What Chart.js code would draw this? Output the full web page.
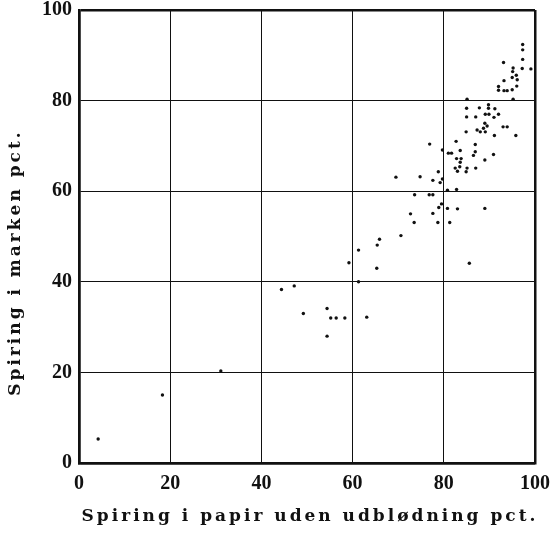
<!DOCTYPE html>
<html>
<head>
<meta charset="utf-8">
<script src="https://cdn.jsdelivr.net/npm/chart.js@4.4.0/dist/chart.umd.min.js"></script>
<style>
  html, body { margin: 0; padding: 0; background: #fff; }
  #wrap { width: 552px; height: 535px; }
</style>
</head>
<body>
<div id="wrap"><canvas id="chart" width="552" height="535"></canvas></div>
<script>
// Spiring i papir (x) against spiring i marken (y), pct.
const papirPct = [
  4.2, 18.3, 31.1, 44.4, 47.2, 49.2, 54.4, 55.2, 56.4, 58.3,
  54.4, 63.1, 61.3, 59.2, 61.3, 65.3, 65.4, 65.9, 70.6, 85.6,
  69.5, 74.8, 77.6, 78.8, 79.2, 79.7, 73.6, 76.8, 77.6, 80.8,
  82.8, 79.5, 78.9, 80.8, 83.0, 89.0, 72.7, 77.6, 73.5, 78.7,
  81.3, 76.9, 79.7, 81.0, 81.7, 83.6, 86.9, 86.5, 90.9, 82.8,
  83.8, 83.6, 89.0, 83.5, 82.5, 85.1, 87.0, 83.0, 84.9, 82.7,
  86.9, 84.9, 91.1, 95.8, 93.0, 93.9, 87.3, 88.0, 89.1, 88.7,
  89.5, 89.0, 85.0, 87.0, 89.1, 89.9, 92.0, 91.0, 85.0, 87.8,
  89.8, 89.8, 91.2, 85.1, 95.2, 92.0, 93.2, 93.9, 95.0, 92.0,
  96.0, 93.2, 96.1, 95.0, 95.9, 95.1, 95.2, 97.2, 99.1, 93.1,
  97.3, 97.3, 97.3
];
const markenPct = [
  5.3, 15.0, 20.3, 38.3, 39.1, 33.0, 34.1, 32.0, 32.0, 32.0,
  28.0, 32.2, 40.0, 44.2, 47.0, 43.0, 48.1, 49.4, 50.2, 44.1,
  63.1, 63.2, 62.4, 64.3, 61.9, 62.7, 59.2, 59.2, 59.2, 60.2,
  60.4, 57.2, 56.4, 56.2, 56.1, 56.2, 55.0, 55.1, 53.1, 53.1,
  53.1, 70.4, 69.1, 68.4, 68.4, 69.0, 68.7, 67.9, 68.1, 67.2,
  67.2, 66.4, 66.9, 65.4, 65.1, 65.1, 65.1, 64.4, 64.3, 71.0,
  70.3, 73.1, 72.3, 72.3, 74.2, 74.2, 73.5, 73.1, 73.1, 73.9,
  74.4, 75.0, 76.4, 76.4, 77.0, 77.0, 77.0, 76.3, 78.3, 78.4,
  79.1, 78.3, 78.2, 80.3, 80.3, 82.3, 82.2, 82.2, 82.4, 83.1,
  83.2, 84.4, 84.6, 85.1, 85.6, 86.4, 87.2, 87.1, 87.0, 88.4,
  89.1, 91.2, 92.4
];
const tickValues = [0, 20, 40, 60, 80, 100];
const xTitle = 'Spiring i papir uden udblødning pct.';
const yTitle = 'Spiring i marken pct.';

const ink = '#111';
const serif = '"Liberation Serif", "DejaVu Serif", serif';

const points = papirPct.map((x, i) => ({ x: x, y: markenPct[i] }));

// axis titles drawn by hand so they can be letter-spaced like the print
const axisTitles = {
  id: 'axisTitles',
  afterDraw(chart) {
    const { ctx, chartArea: a } = chart;
    ctx.save();
    ctx.fillStyle = ink;
    ctx.font = 'bold 17px "DejaVu Serif", serif';
    ctx.letterSpacing = '3px';
    ctx.textAlign = 'center';
    ctx.textBaseline = 'middle';
    ctx.fillText(xTitle, (a.left + a.right) / 2 + 3, a.bottom + 54);
    ctx.translate(16, (a.top + a.bottom) / 2 + 26);
    ctx.rotate(-Math.PI / 2);
    ctx.fillText(yTitle, 0, 0);
    ctx.restore();
  }
};

const edgeWidth = (c) => (c.tick && (c.tick.value === 0 || c.tick.value === 100)) ? 2.5 : 1;

function axis(fit) {
  return {
    type: 'linear',
    min: 0,
    max: 100,
    afterBuildTicks: (s) => { s.ticks = tickValues.map(v => ({ value: v })); },
    afterFit: (s) => {
      fit(s);
      // let the layout padding alone decide the plot box
      s.paddingLeft = s.paddingRight = s.paddingTop = s.paddingBottom = 0;
    },
    border: { display: true, color: ink, width: 2.5 },
    grid: { color: ink, lineWidth: edgeWidth, drawTicks: false },
    ticks: {
      color: ink,
      font: { family: serif, size: 20, weight: 'bold' },
      maxRotation: 0
    },
    title: { display: false }
  };
}

const xAxis = axis((s) => { s.height = 72; });
xAxis.ticks.padding = 9;
const yAxis = axis((s) => { s.width = 79; });
yAxis.ticks.padding = 7;

new Chart(document.getElementById('chart'), {
  type: 'scatter',
  data: {
    datasets: [{
      data: points,
      backgroundColor: ink,
      borderWidth: 0,
      pointRadius: 1.7
    }]
  },
  options: {
    responsive: false,
    animation: false,
    layout: { padding: { left: 0, top: 10, right: 17, bottom: 0 } },
    plugins: {
      legend: { display: false },
      tooltip: { enabled: false }
    },
    scales: { x: xAxis, y: yAxis }
  },
  plugins: [axisTitles]
});
</script>
</body>
</html>
